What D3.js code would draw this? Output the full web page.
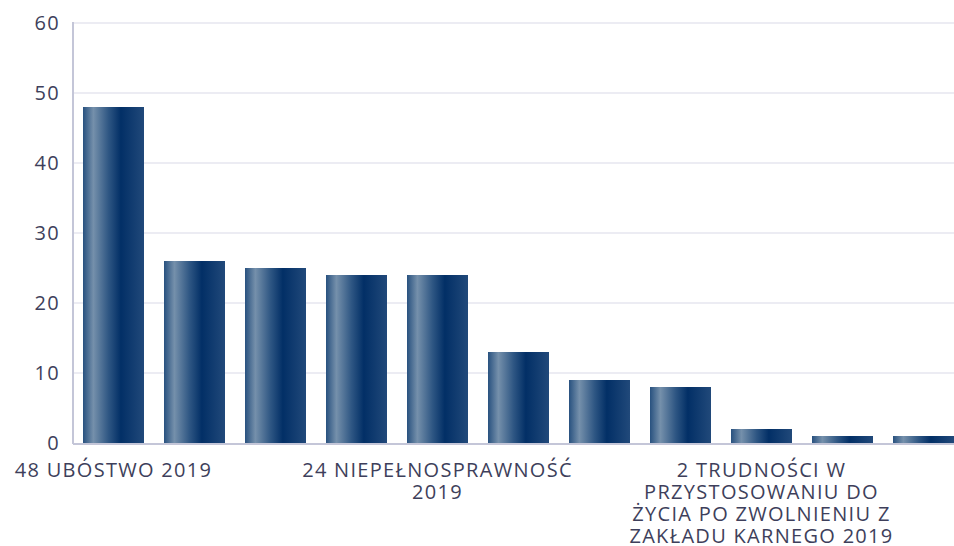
<!DOCTYPE html>
<html>
<head>
<meta charset="utf-8">
<script src="https://cdn.jsdelivr.net/npm/d3@7"></script>
<style>
  body { margin: 0; background: #fff; }
  text { font-family: "Open Sans", sans-serif; fill: #3e3f5b; letter-spacing: 1.3px; }
</style>
</head>
<body>
<div id="mainDiv"></div>
<script>
// data
var categories = [
    "48 UBÓSTWO 2019", "", "", "",
    "24 NIEPEŁNOSPRAWNOŚĆ 2019", "", "", "",
    "2 TRUDNOŚCI W PRZYSTOSOWANIU DO ŻYCIA PO ZWOLNIENIU Z ZAKŁADU KARNEGO 2019", "", ""
];
var values = [48, 26, 25, 24, 24, 13, 9, 8, 2, 1, 1];
var yTicks = [0, 10, 20, 30, 40, 50, 60];

var width = 954, height = 546;
var plotLeft = 73, plotTop = 23, plotBottom = 443;
var step = 81;

var mySvg = d3.select("#mainDiv").append("svg")
    .attr("width", width)
    .attr("height", height);

// bar gradient
var grad = mySvg.append("defs").append("linearGradient")
    .attr("id", "barGrad")
    .attr("x1", "0%").attr("x2", "100%")
    .attr("y1", "0%").attr("y2", "0%");
grad.append("stop").attr("offset", "0%").attr("stop-color", "#28517f");
grad.append("stop").attr("offset", "17%").attr("stop-color", "#7590ab");
grad.append("stop").attr("offset", "42%").attr("stop-color", "#2e5683");
grad.append("stop").attr("offset", "62%").attr("stop-color", "#022f66");
grad.append("stop").attr("offset", "100%").attr("stop-color", "#21497a");

var x = d3.scaleBand()
    .domain(d3.range(values.length))
    .range([plotLeft, plotLeft + step * values.length])
    .paddingInner(20 / 81)
    .paddingOuter(10 / 81);

var y = d3.scaleLinear()
    .domain([0, 60])
    .range([plotBottom, plotTop]);

// gridlines
mySvg.append("g")
    .selectAll("line")
    .data(yTicks.slice(1))
    .enter().append("line")
    .attr("x1", plotLeft).attr("x2", width)
    .attr("y1", function(d) { return y(d); })
    .attr("y2", function(d) { return y(d); })
    .attr("stroke", "#e6e6ef")
    .attr("stroke-width", 1.5);

// y tick labels
mySvg.append("g")
    .selectAll("text")
    .data(yTicks)
    .enter().append("text")
    .attr("x", 60)
    .attr("y", function(d) { return y(d); })
    .attr("dy", "0.36em")
    .attr("text-anchor", "end")
    .style("font-size", "20px")
    .text(function(d) { return d; });

// bars
mySvg.append("g")
    .selectAll("rect")
    .data(values)
    .enter().append("rect")
    .attr("x", function(d, i) { return x(i); })
    .attr("y", function(d) { return y(d); })
    .attr("width", x.bandwidth())
    .attr("height", function(d) { return y(0) - y(d); })
    .attr("fill", "url(#barGrad)");

// axis lines
mySvg.append("line")
    .attr("x1", plotLeft).attr("x2", plotLeft)
    .attr("y1", plotTop - 1).attr("y2", plotBottom + 1)
    .attr("stroke", "#c4c6d8").attr("stroke-width", 2);
mySvg.append("line")
    .attr("x1", plotLeft).attr("x2", width)
    .attr("y1", plotBottom + 1).attr("y2", plotBottom + 1)
    .attr("stroke", "#c4c6d8").attr("stroke-width", 2);

// x labels, wrapped
function wrap(textSel, maxW) {
    textSel.each(function() {
        var t = d3.select(this);
        var words = t.text().split(" ");
        var cx = t.attr("x");
        t.text(null);
        var line = [];
        var ts = t.append("tspan").attr("x", cx).attr("dy", 0);
        words.forEach(function(w) {
            line.push(w);
            ts.text(line.join(" "));
            if (ts.node().getComputedTextLength() > maxW && line.length > 1) {
                line.pop();
                ts.text(line.join(" "));
                line = [w];
                ts = t.append("tspan").attr("x", cx).attr("dy", 22).text(w);
            }
        });
    });
}

mySvg.append("g")
    .selectAll("text")
    .data(categories.map(function(c, i) { return {name: c, i: i}; })
        .filter(function(d) { return d.name !== ""; }))
    .enter().append("text")
    .attr("x", function(d) { return x(d.i) + x.bandwidth() / 2; })
    .attr("y", 477)
    .attr("text-anchor", "middle")
    .style("font-size", "20px")
    .text(function(d) { return d.name; })
    .call(wrap, 290);
</script>
</body>
</html>
